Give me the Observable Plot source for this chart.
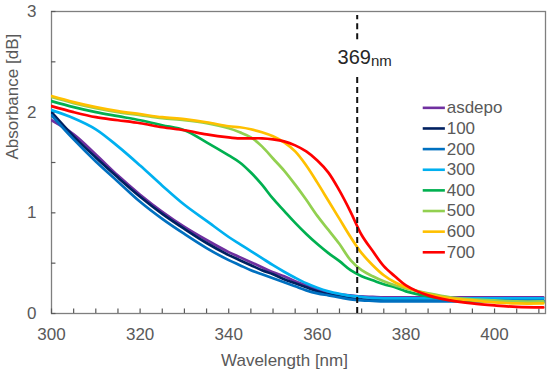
<!DOCTYPE html>
<html>
<head>
<meta charset="utf-8">
<script src="https://cdn.jsdelivr.net/npm/d3@7"></script>
<script src="https://cdn.jsdelivr.net/npm/@observablehq/plot@0.6"></script>
<style>
  html, body { margin: 0; padding: 0; background: #fff; }
  #chart svg { display: block; }
</style>
</head>
<body>
<div id="chart"></div>
<script>
// ---- data ----
const wavelength = [300,305,310,315,320,325,330,335,340,342.5,345,347.5,350,352.5,355,357.5,360,362.5,365,367.5,370,372.5,375,377.5,380,385,390,395,400,405,411];

const asdepo = [1.92,1.78,1.58,1.37,1.18,1.01,0.86,0.73,0.61,0.56,0.51,0.46,0.41,0.37,0.32,0.28,0.24,0.21,0.19,0.18,0.17,0.165,0.16,0.16,0.16,0.16,0.16,0.16,0.16,0.16,0.16];
const s100   = [2.00,1.76,1.55,1.35,1.16,0.99,0.84,0.70,0.58,0.53,0.48,0.43,0.39,0.34,0.30,0.26,0.22,0.19,0.17,0.15,0.14,0.135,0.13,0.13,0.13,0.13,0.13,0.13,0.13,0.13,0.13];
const s200   = [1.97,1.73,1.51,1.31,1.11,0.94,0.79,0.65,0.53,0.48,0.43,0.39,0.35,0.31,0.27,0.23,0.20,0.18,0.16,0.14,0.13,0.125,0.12,0.12,0.12,0.12,0.12,0.12,0.12,0.12,0.12];
const s300   = [2.02,1.94,1.83,1.66,1.47,1.27,1.08,0.92,0.76,0.69,0.62,0.55,0.48,0.415,0.355,0.30,0.255,0.22,0.195,0.175,0.165,0.155,0.15,0.15,0.15,0.15,0.15,0.15,0.15,0.15,0.15];
const s400   = [2.11,2.05,2.00,1.96,1.92,1.87,1.82,1.70,1.57,1.50,1.40,1.28,1.14,1.02,0.90,0.79,0.69,0.60,0.52,0.43,0.37,0.33,0.29,0.26,0.22,0.17,0.14,0.13,0.12,0.11,0.11];
const s500   = [2.15,2.09,2.04,2.00,1.97,1.94,1.92,1.89,1.84,1.80,1.75,1.66,1.54,1.42,1.28,1.13,0.97,0.83,0.69,0.53,0.43,0.37,0.32,0.28,0.25,0.20,0.16,0.14,0.13,0.12,0.12];
const s600   = [2.16,2.10,2.05,2.01,1.98,1.95,1.93,1.90,1.86,1.85,1.83,1.80,1.76,1.70,1.61,1.47,1.30,1.12,0.94,0.76,0.60,0.48,0.38,0.31,0.26,0.19,0.15,0.13,0.11,0.10,0.10];
const s700   = [2.06,2.00,1.95,1.92,1.89,1.85,1.82,1.78,1.75,1.74,1.74,1.74,1.73,1.71,1.67,1.61,1.52,1.40,1.22,1.01,0.78,0.62,0.47,0.37,0.28,0.18,0.13,0.10,0.08,0.065,0.06];

const seriesNames  = ["asdepo","100","200","300","400","500","600","700"];
const seriesValues = [asdepo, s100, s200, s300, s400, s500, s600, s700];
const seriesColors = ["#7030A0","#002060","#0070C0","#00B0F0","#00B050","#92D050","#FFC000","#FF0000"];

const xTickLabels = [300,320,340,360,380,400];
const yTickLabels = [0,1,2,3];
const xMinorTicks = d3.range(300, 411, 5);
const yMinorTicks = [0,0.5,1,1.5,2,2.5,3];
const markerWavelength = 369;
const markerLabel = "369";
const markerUnit = "nm";
const xLabel = "Wavelength [nm]";
const yLabel = "Absorbance [dB]";

// ---- build tables ----
const rows = seriesNames.flatMap((name, i) =>
  wavelength.map((w, j) => ({name, w, a: seriesValues[i][j]})));

// legend rows (placed inside the plot area, in data space)
const legendX1 = 383.9, legendX2 = 388.9, legendTextX = 389.2;
const legendTop = 2.043, legendStep = 0.205;
const legendRows = seriesNames.map((name, i) => ({name, y: legendTop - i * legendStep}));

const gray = "#595959";

const chart = Plot.plot({
  width: 550,
  height: 374,
  marginLeft: 51,
  marginRight: 5,
  marginTop: 11,
  marginBottom: 61,
  x: {domain: [300, 411.5]},
  y: {domain: [0, 3]},
  color: {domain: seriesNames, range: seriesColors},
  style: {fontFamily: "'Liberation Sans', Arial, sans-serif", background: "#fff", overflow: "visible"},
  marks: [
    Plot.frame({stroke: "#7f7f7f", strokeWidth: 1.3}),
    // inward minor ticks
    Plot.ruleX(xMinorTicks, {y1: 0, y2: 0.045, stroke: gray, strokeWidth: 1.2}),
    Plot.ruleY(yMinorTicks, {x1: 300, x2: 301, stroke: gray, strokeWidth: 1.2}),
    // tick labels
    Plot.axisX(xTickLabels, {tickSize: 0, tickPadding: 14, fontSize: 17, color: gray, label: null, tickFormat: d => String(d)}),
    Plot.axisY(yTickLabels, {tickSize: 0, tickPadding: 15, fontSize: 17, color: gray, label: null, tickFormat: d => String(d)}),
    // axis titles
    Plot.text([yLabel], {frameAnchor: "left", dx: -39, dy: -3, rotate: -90, fontSize: 17, fill: gray, lineAnchor: "middle"}),
    Plot.text([xLabel], {frameAnchor: "bottom", dx: -14, dy: 47, fontSize: 17, fill: gray, lineAnchor: "middle"}),
    // series
    Plot.line(rows, {x: "w", y: "a", z: "name", stroke: "name", strokeWidth: 2.7, curve: "catmull-rom", clip: true}),
    // 369 nm marker (dashed, broken around its label)
    Plot.ruleX([markerWavelength], {y1: 0, y2: 2.38, stroke: "#111", strokeWidth: 2, strokeDasharray: "6,4"}),
    Plot.ruleX([markerWavelength], {y1: 2.72, y2: 2.96, stroke: "#111", strokeWidth: 2, strokeDasharray: "6,4"}),
    Plot.text([markerLabel], {x: () => 372.1, y: () => 2.54, textAnchor: "end", lineAnchor: "middle", fontSize: 20, fill: "#262626"}),
    Plot.text([markerUnit], {x: () => 372.1, y: () => 2.51, textAnchor: "start", lineAnchor: "middle", fontSize: 15, fill: "#262626"}),
    // legend
    Plot.ruleY(legendRows, {y: "y", x1: () => legendX1, x2: () => legendX2, stroke: "name", strokeWidth: 2.6}),
    Plot.text(legendRows, {x: () => legendTextX, y: "y", text: "name", textAnchor: "start", lineAnchor: "middle", fontSize: 17, fill: gray})
  ]
});

document.getElementById("chart").appendChild(chart);
</script>
</body>
</html>
